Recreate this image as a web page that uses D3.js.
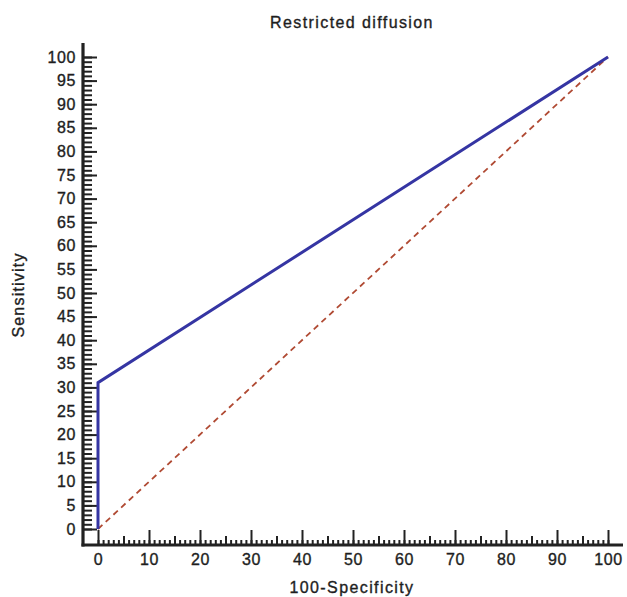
<!DOCTYPE html>
<html>
<head>
<meta charset="utf-8">
<script src="https://cdn.jsdelivr.net/npm/d3@7"></script>
<style>
  body { margin: 0; background: #fff; }
  text { font-family: Arial, "Liberation Sans", sans-serif; fill: #1e1e1e; stroke: #1e1e1e; stroke-width: 0.35px; }
</style>
</head>
<body>
<div id="chart"></div>
<script>
// ROC curve values (100-Specificity, Sensitivity)
const rocX = [0, 0, 100];
const rocY = [0, 31, 100];
// reference diagonal
const diagX = [0, 100];
const diagY = [0, 100];

const xTicks = [0, 10, 20, 30, 40, 50, 60, 70, 80, 90, 100];
const yTicks = [0, 5, 10, 15, 20, 25, 30, 35, 40, 45, 50, 55, 60, 65, 70, 75, 80, 85, 90, 95, 100];

const titleText = 'Restricted diffusion';
const xLabel = '100-Specificity';
const yLabel = 'Sensitivity';

const width = 627, height = 597;
const axisX = 83, axisY = 545;   // position of the frame lines

const svg = d3.select('#chart').append('svg')
    .attr('width', width)
    .attr('height', height);

const x = d3.scaleLinear().domain([0, 100]).range([98, 608]);
const y = d3.scaleLinear().domain([0, 100]).range([529, 57]);

// y axis: minor ticks every 1, major every 5 (ticks point inward)
const yGroup = svg.append('g').attr('transform', `translate(${axisX},0)`);
yGroup.append('g')
    .call(d3.axisLeft(y).tickValues(d3.range(0, 101, 1)).tickSizeInner(-9).tickSizeOuter(0).tickFormat(''))
    .call(g => g.select('.domain').remove());
yGroup.append('g')
    .call(d3.axisLeft(y).tickValues(yTicks).tickSizeInner(-14).tickSizeOuter(0).tickPadding(7))
    .call(g => g.select('.domain').remove())
    .selectAll('text')
    .style('font-size', '16px')
    .style('letter-spacing', '0.6px');

// x axis: minor every 1, medium every 5, major every 10
const xGroup = svg.append('g').attr('transform', `translate(0,${axisY})`);
xGroup.append('g')
    .call(d3.axisBottom(x).tickValues(d3.range(0, 101, 1)).tickSizeInner(-5).tickSizeOuter(0).tickFormat(''))
    .call(g => g.select('.domain').remove());
xGroup.append('g')
    .call(d3.axisBottom(x).tickValues(d3.range(5, 100, 10)).tickSizeInner(-9).tickSizeOuter(0).tickFormat(''))
    .call(g => g.select('.domain').remove());
xGroup.append('g')
    .call(d3.axisBottom(x).tickValues(xTicks).tickSizeInner(-15).tickSizeOuter(0).tickPadding(9))
    .call(g => g.select('.domain').remove())
    .selectAll('text')
    .style('font-size', '16px')
    .style('letter-spacing', '0.6px');

svg.selectAll('.tick line').attr('stroke', '#222').attr('stroke-width', 2);

// frame lines
svg.append('line')
    .attr('x1', axisX).attr('x2', axisX)
    .attr('y1', 43).attr('y2', axisY + 1.5)
    .attr('stroke', '#222').attr('stroke-width', 3.2);
svg.append('line')
    .attr('x1', axisX - 1.5).attr('x2', 623)
    .attr('y1', axisY).attr('y2', axisY)
    .attr('stroke', '#222').attr('stroke-width', 3.2);

// diagonal
svg.append('path')
    .datum(d3.zip(diagX, diagY))
    .attr('d', d3.line().x(d => x(d[0])).y(d => y(d[1])))
    .attr('fill', 'none')
    .attr('stroke', '#b04a33')
    .attr('stroke-width', 1.8)
    .attr('stroke-dasharray', '6,4.5');

// ROC curve
svg.append('path')
    .datum(d3.zip(rocX, rocY))
    .attr('d', d3.line().x(d => x(d[0])).y(d => y(d[1])))
    .attr('fill', 'none')
    .attr('stroke', '#3535a3')
    .attr('stroke-width', 3);

// titles
svg.append('text')
    .attr('x', 352).attr('y', 28)
    .attr('text-anchor', 'middle')
    .style('font-size', '16px')
    .style('letter-spacing', '1.4px')
    .text(titleText);

svg.append('text')
    .attr('x', 352).attr('y', 593)
    .attr('text-anchor', 'middle')
    .style('font-size', '16px')
    .style('letter-spacing', '1.4px')
    .text(xLabel);

svg.append('text')
    .attr('transform', 'translate(24,295) rotate(-90)')
    .attr('text-anchor', 'middle')
    .style('font-size', '16px')
    .style('letter-spacing', '1.2px')
    .text(yLabel);
</script>
</body>
</html>
